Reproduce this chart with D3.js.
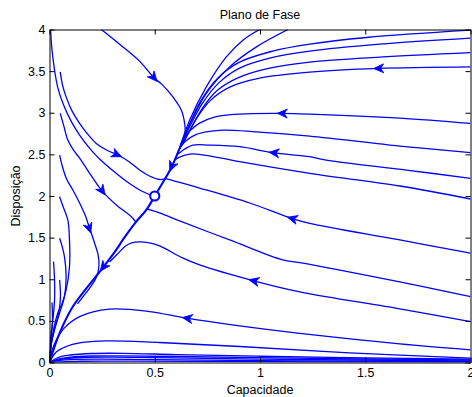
<!DOCTYPE html>
<html><head><meta charset="utf-8">
<script src="https://cdn.jsdelivr.net/npm/d3@7/dist/d3.min.js"></script>
<style>
body{margin:0;background:#fff}
svg{display:block}
text{font-family:"Liberation Sans",Arial,Helvetica,sans-serif;fill:#000}
</style>
</head><body>
<svg id="chart" width="472" height="397"></svg>
<script>
// ---------- data ----------
const titleText = "Plano de Fase";
const xLabelText = "Capacidade";
const yLabelText = "Disposição";
const xTickValues = [0, 0.5, 1, 1.5, 2];
const xTickLabels = ["0", "0.5", "1", "1.5", "2"];
const yTickValues = [0, 0.5, 1, 1.5, 2, 2.5, 3, 3.5, 4];
const yTickLabels = ["0", "0.5", "1", "1.5", "2", "2.5", "3", "3.5", "4"];
const equilibrium = [0.5, 2];

// trajectory through the equilibrium down to the origin (flow order)
const separatrix = [[0.618,2.572],[0.579,2.342],[0.537,2.156],[0.5,2.0],[0.460,1.832],[0.412,1.692],[0.348,1.472],[0.317,1.352],[0.253,1.136],[0.111,0.672],[0.048,0.353],[0.02,0.16],[0,0]];

// fan of trajectories from the top / right edge into the separatrix
const topFan1 = [[0.998,4.0],[0.919,3.872],[0.840,3.671],[0.745,3.311],[0.666,2.912],[0.618,2.572]];
const topFan2 = [[1.133,4.0],[0.983,3.791],[0.856,3.551],[0.745,3.232],[0.680,2.936],[0.647,2.756],[0.618,2.572]];
const edge1 = [[2.0,3.992],[1.506,3.904],[1.236,3.824],[1.060,3.740],[0.903,3.608],[0.799,3.416],[0.718,3.140],[0.666,2.864],[0.637,2.684],[0.618,2.572]];
const edge2 = [[2.0,3.896],[1.569,3.824],[1.236,3.740],[1.046,3.656],[0.903,3.536],[0.808,3.368],[0.727,3.116],[0.670,2.852],[0.637,2.684],[0.618,2.572]];
const edge3 = [[2.0,3.722],[1.569,3.668],[1.236,3.608],[1.046,3.536],[0.903,3.428],[0.799,3.272],[0.727,3.056],[0.675,2.828],[0.642,2.672],[0.618,2.572]];
const edge4 = [[2.0,3.551],[1.559,3.532],[1.236,3.488],[0.998,3.416],[0.856,3.308],[0.761,3.140],[0.694,2.912],[0.647,2.696],[0.618,2.572]];
const edge5 = [[2.0,2.872],[1.664,2.936],[1.236,2.984],[1.101,2.992],[0.903,2.984],[0.784,2.948],[0.713,2.876],[0.666,2.780],[0.632,2.672],[0.618,2.572]];
const edge6 = [[2.0,2.520],[1.664,2.600],[1.236,2.720],[0.983,2.771],[0.824,2.792],[0.737,2.768],[0.690,2.732],[0.647,2.660],[0.618,2.572]];
const edge7 = [[2.0,2.212],[1.696,2.312],[1.315,2.432],[1.236,2.472],[1.062,2.520],[0.903,2.592],[0.761,2.612],[0.681,2.612],[0.642,2.564],[0.613,2.510],[0.604,2.492]];
const edge8 = [[2.0,1.964],[1.664,2.120],[1.236,2.272],[0.903,2.412],[0.737,2.492],[0.666,2.504],[0.618,2.468],[0.594,2.432]];
const edge9 = [[2.0,1.313],[1.664,1.472],[1.236,1.672],[1.149,1.732],[0.951,1.916],[0.713,2.096],[0.594,2.180],[0.547,2.212]];
const edge10 = [[2.0,0.792],[1.664,0.968],[1.189,1.200],[1.108,1.232],[0.856,1.472],[0.618,1.700],[0.523,1.796],[0.462,1.844]];
const edge11 = [[2.0,0.492],[1.664,0.644],[1.189,0.848],[0.966,0.984],[0.713,1.172],[0.632,1.256],[0.523,1.400],[0.475,1.436],[0.428,1.448],[0.394,1.440],[0.361,1.400],[0.323,1.304],[0.285,1.208]];
const edge12 = [[2.0,0.152],[1.664,0.224],[1.189,0.350],[0.903,0.440],[0.650,0.533],[0.475,0.612],[0.285,0.641],[0.143,0.552],[0.071,0.416],[0.033,0.272],[0.010,0.128],[0,0]];
const edge13 = [[2.0,0.053],[1.426,0.116],[0.903,0.192],[0.523,0.240],[0.270,0.260],[0.143,0.236],[0.079,0.192],[0.033,0.128],[0,0]];
const edge14 = [[2.0,0.040],[1.5,0.055],[1.0,0.075],[0.6,0.095],[0.35,0.110],[0.2,0.108],[0.1,0.090],[0.04,0.060],[0,0]];
const edge15 = [[2.0,0.030],[1.5,0.042],[1.0,0.058],[0.6,0.072],[0.35,0.080],[0.2,0.078],[0.1,0.065],[0.04,0.040],[0,0]];
const edge16 = [[2.0,0.020],[1.0,0.040],[0.5,0.058],[0.3,0.064],[0.15,0.060],[0.06,0.040],[0,0]];
const edge17 = [[2.0,0.010],[1.0,0.022],[0.5,0.035],[0.25,0.040],[0.1,0.035],[0.03,0.020],[0,0]];
const edge18 = [[2.0,0.004],[1.0,0.010],[0.4,0.016],[0.15,0.015],[0,0]];

// trajectories entering from the upper left
const topCurve = [[0.246,4.0],[0.333,3.824],[0.428,3.620],[0.499,3.412],[0.533,3.344],[0.586,3.191],[0.626,3.032],[0.642,2.872],[0.644,2.756],[0.637,2.672],[0.623,2.588]];
const cornerCurve = [[0.005,4.0],[0.012,3.752],[0.024,3.512],[0.040,3.296],[0.067,3.092],[0.100,2.912],[0.143,2.732],[0.190,2.576],[0.238,2.444],[0.309,2.288],[0.380,2.150],[0.437,2.060],[0.480,2.012]];
const left35 = [[0.051,3.491],[0.062,3.332],[0.079,3.191],[0.105,3.032],[0.143,2.872],[0.181,2.744],[0.222,2.632],[0.271,2.552],[0.325,2.492],[0.380,2.408],[0.428,2.312],[0.475,2.240],[0.523,2.198],[0.547,2.205]];
const left30 = [[0.051,2.992],[0.067,2.852],[0.087,2.672],[0.114,2.552],[0.143,2.456],[0.190,2.276],[0.253,2.052],[0.323,1.880],[0.361,1.808],[0.390,1.748],[0.406,1.700],[0.410,1.680]];
const left25 = [[0.048,2.492],[0.062,2.348],[0.081,2.204],[0.111,2.072],[0.143,1.916],[0.171,1.760],[0.190,1.616],[0.214,1.436],[0.231,1.292],[0.235,1.160],[0.223,1.028],[0.195,0.908],[0.162,0.800],[0.133,0.704]];
const left20 = [[0.048,1.992],[0.067,1.856],[0.087,1.712],[0.095,1.472],[0.095,1.152],[0.079,0.872],[0.057,0.692],[0.039,0.593],[0.019,0.392],[0.005,0.160],[0,0]];
const left15 = [[0.048,1.492],[0.062,1.376],[0.071,1.272],[0.079,1.032],[0.071,0.792],[0.048,0.593],[0.024,0.392],[0.008,0.212],[0,0]];
const left12 = [[0.019,1.212],[0.024,0.992],[0.024,0.752],[0.016,0.512],[0.007,0.332],[0,0]];
const left10 = [[0.048,0.992],[0.052,0.792],[0.044,0.593],[0.024,0.416],[0.010,0.248],[0,0]];
const left07 = [[0.012,0.720],[0.014,0.500],[0.009,0.300],[0.003,0.100],[0,0]];

// arrowhead positions (direction taken from the trajectory they sit on)
const arrowPoints = [[0.499,3.412],[1.559,3.532],[1.101,2.992],[1.062,2.520],[0.579,2.342],[0.325,2.492],[0.253,2.052],[0.19,1.60],[1.149,1.732],[0.253,1.136],[0.966,0.984],[0.650,0.533]];

// ---------- drawing ----------
const trajectories = [topFan1, topFan2, edge1, edge2, edge3, edge4, edge5, edge6, edge7, edge8, edge9, edge10, edge11, edge12, edge13, edge14, edge15, edge16, edge17, edge18, topCurve, cornerCurve, left35, left30, left25, left20, left15, left12, left10, left07];

const svg = d3.select("#chart");
const x = d3.scaleLinear().domain([0, 2]).range([49.5, 470.5]);
const y = d3.scaleLinear().domain([0, 4]).range([362.5, 29.5]);
const blue = "#0000ff";

svg.append("defs").append("clipPath").attr("id", "plotclip")
  .append("rect").attr("x", x(0)).attr("y", y(4)).attr("width", x(2) - x(0)).attr("height", y(0) - y(4));

const line = d3.line().x(d => x(d[0])).y(d => y(d[1])).curve(d3.curveCatmullRom.alpha(0.5));

const plot = svg.append("g").attr("clip-path", "url(#plotclip)");
plot.selectAll("path.traj").data(trajectories).join("path")
  .attr("class", "traj").attr("d", line)
  .attr("fill", "none").attr("stroke", blue).attr("stroke-width", 1.3);
plot.append("path").datum(separatrix).attr("d", line)
  .attr("fill", "none").attr("stroke", blue).attr("stroke-width", 2.1);

// arrowheads
const allPaths = trajectories.concat([separatrix]);
function direction(pt) {
  const px = x(pt[0]), py = y(pt[1]);
  let best = null, bestD = Infinity;
  allPaths.forEach(p => {
    for (let i = 0; i < p.length - 1; i++) {
      const ax = x(p[i][0]), ay = y(p[i][1]), bx = x(p[i+1][0]), by = y(p[i+1][1]);
      const vx = bx - ax, vy = by - ay, L2 = vx*vx + vy*vy || 1;
      let t = ((px - ax)*vx + (py - ay)*vy) / L2; t = Math.max(0, Math.min(1, t));
      const dx = ax + t*vx - px, dy = ay + t*vy - py, d = dx*dx + dy*dy;
      if (d < bestD) { bestD = d; best = Math.atan2(vy, vx); }
    }
  });
  return best * 180 / Math.PI;
}
plot.selectAll("path.arrow").data(arrowPoints).join("path")
  .attr("class", "arrow")
  .attr("d", "M4,0L-6,-4.5L-3,0L-6,4.5Z")
  .attr("transform", d => `translate(${x(d[0])},${y(d[1])}) rotate(${direction(d)})`)
  .attr("fill", blue).attr("stroke", blue).attr("stroke-width", 0.8).attr("stroke-linejoin", "miter");

// equilibrium marker
svg.append("circle").attr("cx", x(equilibrium[0])).attr("cy", y(equilibrium[1])).attr("r", 4.6)
  .attr("fill", "#fff").attr("stroke", blue).attr("stroke-width", 2);

// axes (inward ticks, box)
const fs = "12.5px";
const axB = svg.append("g").attr("transform", `translate(0,${y(0)})`)
  .call(d3.axisBottom(x).tickValues(xTickValues).tickFormat((d, i) => xTickLabels[i]).tickSizeInner(-5).tickSizeOuter(0).tickPadding(5.5));
const axT = svg.append("g").attr("transform", `translate(0,${y(4)})`)
  .call(d3.axisTop(x).tickValues(xTickValues).tickFormat("").tickSizeInner(-5).tickSizeOuter(0));
const axL = svg.append("g").attr("transform", `translate(${x(0)},0)`)
  .call(d3.axisLeft(y).tickValues(yTickValues).tickFormat((d, i) => yTickLabels[i]).tickSizeInner(-5).tickSizeOuter(0).tickPadding(4));
const axR = svg.append("g").attr("transform", `translate(${x(2)},0)`)
  .call(d3.axisRight(y).tickValues(yTickValues).tickFormat("").tickSizeInner(-5).tickSizeOuter(0));
[axB, axT, axL, axR].forEach(a => {
  a.attr("font-family", null).attr("font-size", null);
  a.selectAll("text").style("font-size", fs).attr("fill", "#000");
  a.selectAll("line,path").attr("stroke", "#000");
});

// titles
svg.append("text").attr("x", (x(0) + x(2)) / 2).attr("y", 19).attr("text-anchor", "middle")
  .style("font-size", fs).text(titleText);
svg.append("text").attr("x", (x(0) + x(2)) / 2).attr("y", 393.5).attr("text-anchor", "middle")
  .style("font-size", fs).text(xLabelText);
svg.append("text").attr("transform", `translate(19.5,${(y(0) + y(4)) / 2}) rotate(-90)`).attr("text-anchor", "middle")
  .style("font-size", fs).text(yLabelText);
</script>
</body></html>
